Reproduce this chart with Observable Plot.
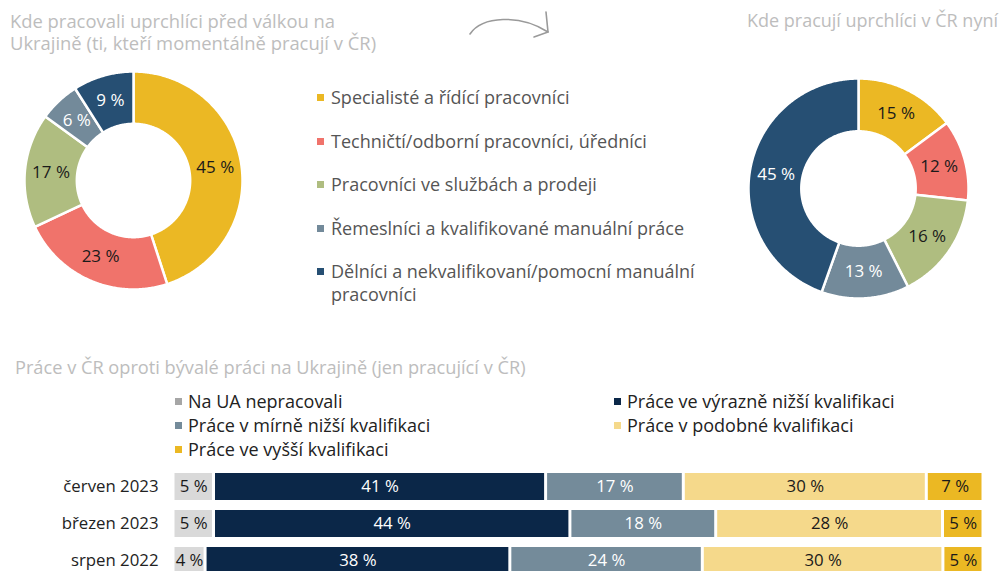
<!DOCTYPE html>
<html><head><meta charset="utf-8">
<script src="https://cdn.jsdelivr.net/npm/d3@7"></script>
<script src="https://cdn.jsdelivr.net/npm/@observablehq/plot@0.6"></script>
<style>
html,body{margin:0;padding:0;background:#fff;overflow:hidden;}
body{width:1003px;height:571px;position:relative;font-family:"Open Sans","Noto Sans",sans-serif;}
.abs{position:absolute;}
.title{color:#bdbdbd;font-size:18.4px;line-height:22px;}
.leg1{color:#555;font-size:18px;line-height:23px;}
.leg1 .it{position:absolute;left:0;padding-left:14px;width:400px;}
.leg1 .sq{position:absolute;left:0;top:8px;width:7px;height:7px;}
.leg2{color:#222;font-size:18px;line-height:24px;}
.leg2 .it{position:absolute;padding-left:13px;white-space:nowrap;}
.leg2 .sq{position:absolute;left:0;top:9px;width:7px;height:7px;}
</style></head><body>
<script>
// ---- data ----
const occupations = ["Specialisté a řídící pracovníci","Techničtí/odborní pracovníci, úředníci","Pracovníci ve službách a prodeji","Řemeslníci a kvalifikované manuální práce","Dělníci a nekvalifikovaní/pomocní manuální pracovníci"];
const occColors = ["#ebb824","#f0736b","#afbd80","#738a9a","#264f73"];
const occDarkText = [true,true,true,false,false];
const beforeWar = [45,23,17,6,9];
const nowCR = [15,12,16,13,45];

const periods = ["červen 2023","březen 2023","srpen 2022"];
const levels = ["Na UA nepracovali","Práce ve výrazně nižší kvalifikaci","Práce v mírně nižší kvalifikaci","Práce v podobné kvalifikaci","Práce ve vyšší kvalifikaci"];
const levelColors = ["#d9d9d9","#0b2748","#748b9a","#f5d98b","#ebb823"];
const levelLegendColors = ["#a6a6a6","#0b2748","#748b9a","#f5d98b","#ebb823"];
const levelDarkText = [true,false,false,true,true];
const jun2023 = [5,41,17,30,7];
const mar2023 = [5,44,18,28,5];
const aug2022 = [4,38,24,30,5];

const titleLeft = "Kde pracovali uprchlíci před válkou na Ukrajině (ti, kteří momentálně pracují v ČR)";
const titleRight = "Kde pracují uprchlíci v ČR nyní";
const titleBottom = "Práce v ČR oproti bývalé práci na Ukrajině (jen pracující v ČR)";

const FONT = '"Open Sans","Noto Sans",sans-serif';

function add(el, css){ Object.assign(el.style, css); document.body.appendChild(el); return el; }

// ---- donut via Plot.line with closed polygons on linear scales ----
function donut(values, size, inner){
  const total = d3.sum(values);
  const pts = [], labels = [];
  let acc = 0;
  values.forEach((v,i)=>{
    const a0 = acc/total*2*Math.PI, a1 = (acc+v)/total*2*Math.PI; acc += v;
    const n = Math.max(4, Math.ceil((a1-a0)/0.01));
    for(let k=0;k<=n;k++){ const a=a0+(a1-a0)*k/n; pts.push({cat:occupations[i], x:Math.sin(a), y:Math.cos(a)}); }
    for(let k=n;k>=0;k--){ const a=a0+(a1-a0)*k/n; pts.push({cat:occupations[i], x:inner*Math.sin(a), y:inner*Math.cos(a)}); }
    const am=(a0+a1)/2, rm=(1+inner)/2;
    labels.push({cat:occupations[i], x:rm*Math.sin(am), y:rm*Math.cos(am), text:v+" %", dark:occDarkText[i]});
  });
  return Plot.plot({
    width:size, height:size, margin:2,
    x:{domain:[-1,1], axis:null}, y:{domain:[-1,1], axis:null},
    color:{domain:occupations, range:occColors},
    style:{fontFamily:FONT, background:"transparent", overflow:"visible"},
    marks:[
      Plot.line(pts,{x:"x", y:"y", z:"cat", fill:"cat", stroke:"white", strokeWidth:2.5, curve:"linear-closed"}),
      Plot.text(labels.filter(d=>d.dark),{x:"x", y:"y", text:"text", fill:"#1a1a1a", fontSize:17}),
      Plot.text(labels.filter(d=>!d.dark),{x:"x", y:"y", text:"text", fill:"#fff", fontSize:17})
    ]
  });
}

const d1 = donut(beforeWar, 222, 0.52);
add(d1, {position:"absolute", left:(133-111)+"px", top:(180-111)+"px"});
const d2 = donut(nowCR, 224, 0.52);
add(d2, {position:"absolute", left:(857.5-112)+"px", top:(188-112)+"px"});

// ---- titles ----
const t1 = document.createElement("div"); t1.className="abs title"; t1.textContent=titleLeft;
add(t1,{left:"10px", top:"10px", width:"390px"});
const t2 = document.createElement("div"); t2.className="abs title"; t2.textContent=titleRight;
add(t2,{right:"5px", top:"9px", whiteSpace:"nowrap", fontSize:"18px"});
const t3 = document.createElement("div"); t3.className="abs title"; t3.textContent=titleBottom;
add(t3,{left:"15px", top:"356px", whiteSpace:"nowrap", fontSize:"18.2px"});

// ---- occupation legend ----
const leg1 = document.createElement("div"); leg1.className="abs leg1";
add(leg1,{left:"317px", top:"0px"});
const leg1Tops = [86,130,173,217,260];
occupations.forEach((o,i)=>{
  const it = document.createElement("div"); it.className="it"; it.style.top = leg1Tops[i]+"px";
  it.style.width = i===4 ? "390px" : "420px";
  const sq = document.createElement("div"); sq.className="sq"; sq.style.background = occColors[i];
  it.appendChild(sq); it.appendChild(document.createTextNode(o)); leg1.appendChild(it);
});

// ---- arrow (decoration) ----
const ns="http://www.w3.org/2000/svg";
const arr = document.createElementNS(ns,"svg");
arr.setAttribute("width","100"); arr.setAttribute("height","50");
arr.innerHTML = '<path d="M2,24 C14,6 52,4 80,22" fill="none" stroke="#9a9a9a" stroke-width="1.6" stroke-linecap="round"/><path d="M78,2 L80,22 L66,27" fill="none" stroke="#9a9a9a" stroke-width="1.6" stroke-linecap="round" stroke-linejoin="round"/>';
add(arr,{position:"absolute", left:"468px", top:"10px"});

// ---- bar legend ----
const leg2 = document.createElement("div"); leg2.className="abs leg2";
add(leg2,{left:"0px", top:"0px"});
const leg2Pos = [[175,389],[614,389],[175,413],[614,413],[175,437]];
[0,1,2,3,4].forEach((j,k)=>{
  const it = document.createElement("div"); it.className="it";
  it.style.left = leg2Pos[k][0]+"px"; it.style.top = leg2Pos[k][1]+"px";
  const sq = document.createElement("div"); sq.className="sq"; sq.style.background = levelLegendColors[j];
  it.appendChild(sq); it.appendChild(document.createTextNode(levels[j])); leg2.appendChild(it);
});

// ---- stacked bars ----
const rows = [jun2023, mar2023, aug2022];
const barData = [];
periods.forEach((p,i)=> levels.forEach((l,j)=> barData.push({period:p, level:l, value:rows[i][j], dark:levelDarkText[j]})));
const bars = Plot.plot({
  width:1003, height:125, marginTop:3, marginBottom:0, marginLeft:173, marginRight:20,
  x:{domain:[0,1], axis:null},
  y:{domain:periods, padding:0.27, label:null, tickSize:0, tickPadding:15},
  color:{domain:levels, range:levelColors},
  style:{fontFamily:FONT, fontSize:"16.8px", color:"#222", background:"transparent"},
  marks:[
    Plot.barX(barData, Plot.stackX({x:"value", y:"period", fill:"level", order:levels, offset:"normalize", insetLeft:1.5, insetRight:1.5})),
    Plot.text(barData, Plot.stackX({x:"value", y:"period", z:"level", order:levels, offset:"normalize", text:d=>d.dark? d.value+" %":"", fill:"#1a1a1a", fontSize:16.8})),
    Plot.text(barData, Plot.stackX({x:"value", y:"period", z:"level", order:levels, offset:"normalize", text:d=>!d.dark? d.value+" %":"", fill:"#fff", fontSize:16.8}))
  ]
});
add(bars,{position:"absolute", left:"0px", top:"460px"});
</script>
</body></html>
